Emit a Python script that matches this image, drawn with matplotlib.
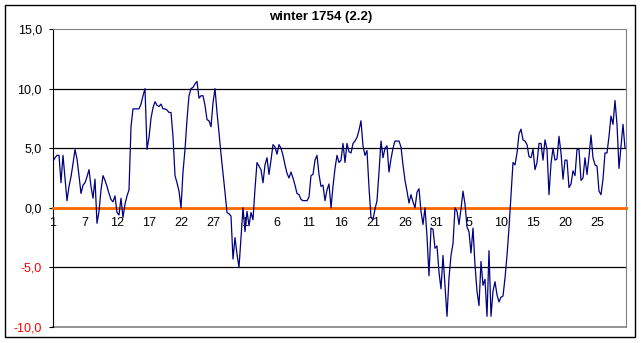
import numpy as np
import matplotlib
matplotlib.use('Agg')
import matplotlib.pyplot as plt
from matplotlib.patches import Rectangle

plt.rcParams['font.family'] = ['Liberation Sans', 'DejaVu Sans']

# temperature readings, winter 1754 (Dec - Feb)
temps = [
    3.9, 4.2, 4.4, 4.4, 2.1, 4.4, 2.5, 0.6, 1.8, 2.6,
    3.7, 4.9, 4.1, 2.7, 1.2, 1.9, 2.1, 2.6, 3.2, 1.8,
    0.8, 2.4, -1.3, -0.3, 1.5, 2.7, 2.3, 1.8, 1.2, 0.7,
    0.5, 1.0, -0.4, -0.6, 0.8, -0.8, 0.3, 1.0, 1.5, 6.8,
    8.3, 8.3, 8.3, 8.3, 8.7, 9.4, 10.0, 4.9, 5.9, 7.5,
    8.4, 8.9, 8.6, 8.5, 8.7, 8.3, 8.3, 8.2, 8.0, 8.0,
    6.0, 2.7, 2.1, 1.4, 0.0, 3.0, 4.9, 7.4, 9.4, 10.0,
    10.1, 10.4, 10.6, 9.2, 9.4, 9.4, 8.6, 7.4, 7.3, 6.8,
    8.8, 10.0, 8.0, 6.3, 4.5, 2.9, 1.3, -0.4, -0.5, -0.7,
    -4.3, -2.5, -3.9, -5.0, -2.5, 0.0, -2.0, -0.3, -1.5, -0.4,
    -1.0, 1.6, 3.8, 3.5, 3.2, 2.1, 3.6, 4.2, 2.8, 4.0,
    5.3, 5.1, 4.5, 5.3, 5.0, 4.4, 3.6, 2.9, 2.5, 3.0,
    2.5, 1.9, 1.2, 1.1, 0.7, 0.6, 0.6, 0.6, 0.9, 2.7,
    2.8, 4.0, 4.4, 2.8, 1.8, 1.9, 0.6, 1.5, 2.0, 0.0,
    1.8, 3.3, 4.4, 3.8, 4.0, 5.4, 3.8, 5.4, 4.7, 4.6,
    5.4, 5.6, 5.9, 6.5, 7.3, 5.2, 4.4, 4.8, 1.7, -0.8,
    -1.0, -0.1, 0.6, 3.0, 5.6, 4.2, 5.0, 5.2, 3.0, 4.1,
    5.0, 5.6, 5.6, 5.6, 5.1, 3.6, 2.3, 1.4, 0.4, 1.1,
    0.5, 0.0, 1.3, 1.6, -0.3, -1.4, 0.0, -2.4, -5.7, -1.7,
    -1.8, -3.4, -3.2, -5.4, -6.8, -4.0, -6.6, -9.1, -5.9, -4.0,
    -3.0, 0.0, -0.3, -1.4, -0.1, 1.4, 0.3, -1.6, -2.0, -3.8,
    -1.7, -4.8, -7.0, -8.2, -4.5, -6.5, -6.0, -9.1, -3.6, -9.1,
    -7.0, -6.2, -7.3, -7.9, -7.5, -7.4, -5.9, -4.0, -1.7, 1.0,
    3.8, 3.6, 4.6, 6.2, 6.6, 5.7, 5.6, 5.3, 4.3, 4.2,
    4.9, 3.2, 3.8, 5.4, 5.4, 4.0, 5.7, 4.9, 1.1, 3.7,
    5.0, 4.0, 4.1, 6.0, 4.6, 2.4, 4.0, 4.0, 1.7, 2.0,
    3.1, 2.7, 4.9, 4.9, 2.3, 2.5, 4.2, 2.8, 4.3, 6.1,
    4.2, 3.6, 3.5, 1.4, 1.1, 2.4, 4.6, 4.6, 6.0, 7.7,
    7.0, 9.0, 7.0, 3.3, 5.2, 7.0, 5.0]

day_labels = ["1", "7", "12", "17", "22", "27", "1", "6", "11", "16",
              "21", "26", "31", "5", "10", "15", "20", "25"]
label_step = 16
yticks = [-10, -5, 0, 5, 10, 15]

x = np.arange(len(temps))

fig = plt.figure(figsize=(6.42, 3.43), dpi=100)
ax = fig.add_axes([53 / 642, 16 / 343, 573 / 642, 298 / 343])

ax.plot(x, temps, color='#000080', lw=0.9, zorder=3)
for y in [-5, 5, 10]:
    ax.axhline(y, color='black', lw=0.9, zorder=1)
ax.axhline(-10, color='#808080', lw=1.2, clip_on=False, zorder=1)

ax.set_xlim(0, len(temps) - 0.5)
ax.set_ylim(-10, 15)

ax.spines['bottom'].set_position(('data', 0))
ax.spines['bottom'].set_color('#FF6600')
ax.spines['bottom'].set_linewidth(2)
ax.spines['top'].set_color('#808080')
ax.spines['right'].set_color('#808080')
ax.spines['left'].set_color('black')

ax.set_xticks(np.arange(len(day_labels)) * label_step)
ax.set_xticklabels(day_labels)
ax.tick_params(axis='x', length=0, pad=6.5, labelsize=9)

ax.set_yticks(yticks)
ax.set_yticklabels([("%.1f" % v).replace('.', ',') for v in yticks])
ax.tick_params(axis='y', length=3, width=0.8, pad=5, labelsize=9)
for lab, v in zip(ax.get_yticklabels(), yticks):
    if v < 0:
        lab.set_color('red')

fig.text(0.5, 1 - 17 / 343, "winter 1754 (2.2)", ha='center', va='center',
         fontsize=9.5, fontweight='bold')

fig.add_artist(Rectangle((5 / 642, 6 / 343), 630 / 642, 332 / 343,
                         transform=fig.transFigure, fill=False,
                         edgecolor='black', lw=1))

fig.savefig('out.png', dpi=100)
